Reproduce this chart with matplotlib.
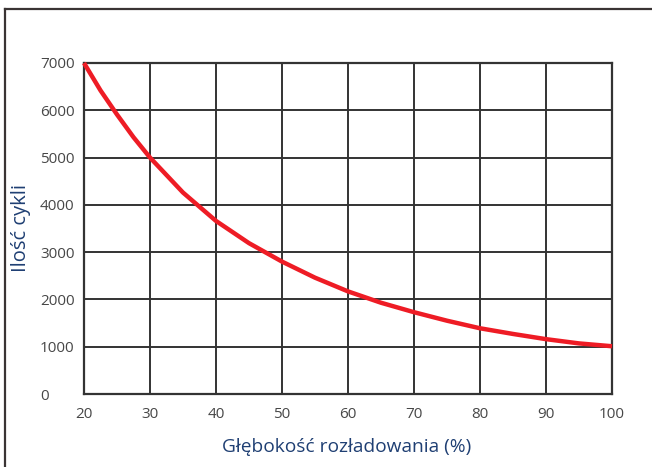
import matplotlib
matplotlib.use("Agg")
import matplotlib.pyplot as plt
from matplotlib.lines import Line2D

depth = [20, 22.5, 25, 27.5, 30, 35, 40, 45, 50, 55, 60, 65, 70, 75, 80, 85, 90, 95, 100]
cycles = [7000, 6420, 5910, 5430, 5000, 4260, 3660, 3190, 2800, 2460, 2170, 1930, 1730, 1550, 1390, 1270, 1160, 1070, 1010]
x_ticks = [20, 30, 40, 50, 60, 70, 80, 90, 100]
y_ticks = [0, 1000, 2000, 3000, 4000, 5000, 6000, 7000]
x_label = "Głębokość rozładowania (%)"
y_label = "Ilość cykli"

W, H = 652, 467
fig = plt.figure(figsize=(W / 100, H / 100), dpi=100)
fig.patch.set_facecolor("white")

ax = fig.add_axes([84 / W, (H - 394) / H, 528 / W, 331 / H])
ax.set_xlim(20, 100)
ax.set_ylim(0, 7000)
ax.set_xticks(x_ticks)
ax.set_yticks(y_ticks)
grid_c = "#333333"
ax.grid(True, color=grid_c, linewidth=1.4)
ax.set_axisbelow(True)
for s in ax.spines.values():
    s.set_color(grid_c)
    s.set_linewidth(1.6)
ax.tick_params(length=0, labelsize=11, colors="#474747")
ax.tick_params(axis="x", pad=9)
ax.tick_params(axis="y", pad=44 * 0.72)
for lab in ax.get_xticklabels() + ax.get_yticklabels():
    lab.set_fontfamily("Open Sans")
for lab in ax.get_yticklabels():
    lab.set_horizontalalignment("left")

ax.plot(depth, cycles, color="#ee1c25", linewidth=3.2, solid_capstyle="butt",
        solid_joinstyle="round", clip_on=False, zorder=5)

fig.text(347 / W, 1 - 447 / H, x_label, ha="center", va="center",
         fontsize=13.8, color="#1f3f73", family="Open Sans")
fig.text(21 / W, 1 - 228 / H, y_label, ha="center", va="center", rotation=90,
         fontsize=14.5, color="#1f3f73", family="Open Sans")

frame_c = "#3a3434"
fig.add_artist(Line2D([4.5 / W, 1.0], [1 - 8.5 / H, 1 - 8.5 / H], transform=fig.transFigure,
                      color=frame_c, linewidth=1.6))
fig.add_artist(Line2D([4.5 / W, 4.5 / W], [1 - 8.5 / H, 0], transform=fig.transFigure,
                      color=frame_c, linewidth=1.6))

fig.savefig("out.png", dpi=100)
